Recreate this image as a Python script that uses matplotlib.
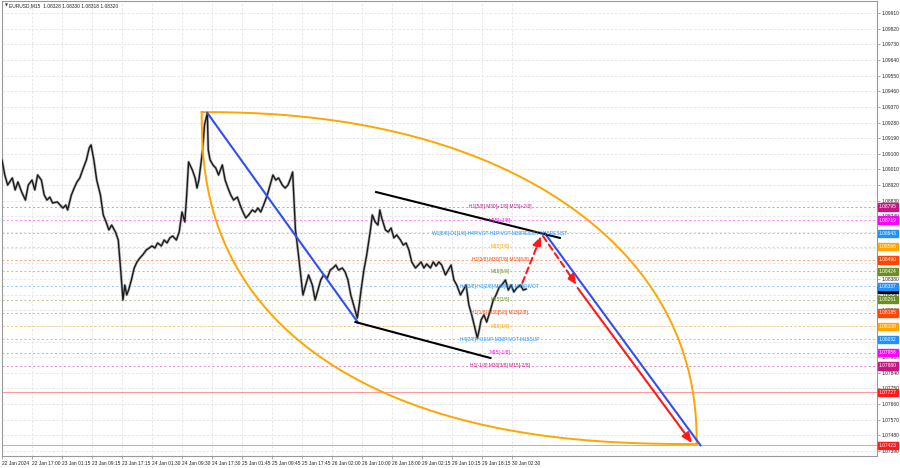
import numpy as np
import matplotlib
matplotlib.use("Agg")
import matplotlib.pyplot as plt

# ---------------- data ----------------
price_bar = [0, 3, 6, 11, 14, 17, 21, 25, 28, 32, 35, 38, 42, 45, 48, 51, 54, 59, 62, 65,
             68, 70, 74, 77, 80, 83, 86, 90, 93, 95, 98, 101, 105, 108, 111, 114, 117, 121, 124, 127,
             129, 131, 133, 135, 138, 141, 144, 147, 150, 154, 157, 160, 163, 166, 170, 173, 176, 179, 182, 186,
             189, 192, 195, 197, 199, 203, 206, 208, 210, 212, 214, 216, 219, 220, 222, 225, 228, 231, 235, 238,
             241, 244, 247, 251, 254, 257, 260, 263, 267, 270, 273, 276, 279, 283, 286, 289, 292, 295, 299, 302,
             305, 308, 310, 313, 315, 318, 321, 324, 327, 331, 334, 337, 340, 343, 347, 350, 353, 356, 359, 363,
             366, 369, 372, 375, 379, 381, 383, 386, 389, 393, 395, 398, 401, 403, 405, 409, 412, 415, 418, 421,
             425, 428, 431, 434, 437, 441, 444, 447, 450, 453, 457, 460, 463, 466, 469, 473, 476, 479, 482, 485,
             489, 492, 495, 498, 501, 505, 507, 509, 511, 514, 517, 521, 524, 527, 530, 533, 537, 540, 543, 546,
             549, 553, 556, 559]
price_close = [1.09064, 1.08978, 1.08920, 1.08961, 1.08892, 1.08938, 1.08880, 1.08834, 1.08920, 1.08949,
               1.08892, 1.08978, 1.08949, 1.08863, 1.08834, 1.08851, 1.08817, 1.08823, 1.08805, 1.08788,
               1.08805, 1.08777, 1.08863, 1.08903, 1.08938, 1.08961, 1.09007, 1.09064, 1.09133, 1.09151,
               1.09064, 1.08949, 1.08863, 1.08748, 1.08708, 1.08662, 1.08690, 1.08650, 1.08604, 1.08403,
               1.08259, 1.08345, 1.08288, 1.08316, 1.08374, 1.08443, 1.08478, 1.08500, 1.08518, 1.08547,
               1.08558, 1.08570, 1.08558, 1.08587, 1.08570, 1.08604, 1.08587, 1.08616, 1.08627, 1.08604,
               1.08650, 1.08765, 1.08708, 1.08863, 1.09053, 1.09007, 1.08961, 1.08903, 1.08949, 1.09036,
               1.09122, 1.09266, 1.09335, 1.09122, 1.09064, 1.09036, 1.09018, 1.08978, 1.09036, 1.08949,
               1.08903, 1.08863, 1.08834, 1.08851, 1.08805, 1.08765, 1.08731, 1.08748, 1.08777, 1.08765,
               1.08788, 1.08765, 1.08805, 1.08863, 1.08920, 1.08978, 1.08949, 1.08961, 1.08920, 1.08903,
               1.08920, 1.08961, 1.08995, 1.08662, 1.08575, 1.08431, 1.08288, 1.08345, 1.08403, 1.08345,
               1.08259, 1.08316, 1.08374, 1.08403, 1.08385, 1.08431, 1.08443, 1.08460, 1.08431, 1.08443,
               1.08420, 1.08374, 1.08288, 1.08230, 1.08155, 1.08230, 1.08316, 1.08431, 1.08518, 1.08662,
               1.08748, 1.08708, 1.08690, 1.08777, 1.08731, 1.08662, 1.08650, 1.08673, 1.08616, 1.08633,
               1.08604, 1.08575, 1.08587, 1.08547, 1.08478, 1.08443, 1.08460, 1.08478, 1.08443, 1.08466,
               1.08443, 1.08478, 1.08454, 1.08478, 1.08460, 1.08403, 1.08431, 1.08460, 1.08374, 1.08345,
               1.08288, 1.08316, 1.08345, 1.08230, 1.08173, 1.08086, 1.08040, 1.08086, 1.08144, 1.08173,
               1.08132, 1.08201, 1.08259, 1.08288, 1.08328, 1.08345, 1.08374, 1.08316, 1.08345, 1.08305,
               1.08328, 1.08345, 1.08316, 1.08322]

x_tick_labels = ["22 Jan 2024", "22 Jan 17:00", "23 Jan 01:15", "23 Jan 09:15", "23 Jan 17:15",
                 "24 Jan 01:30", "24 Jan 09:30", "24 Jan 17:30", "25 Jan 01:45", "25 Jan 09:45",
                 "25 Jan 17:45", "26 Jan 02:00", "26 Jan 10:00", "26 Jan 18:00", "29 Jan 02:15",
                 "29 Jan 10:15", "29 Jan 18:15", "30 Jan 02:30"]
x_tick_bars = [0, 32, 64, 96, 128, 160, 192, 224, 256, 288, 320, 352, 384, 416, 448, 480, 512, 544]

y_tick_values = [1.07390, 1.07480, 1.07570, 1.07660, 1.07750, 1.07840, 1.07930, 1.08020, 1.08110,
                 1.08200, 1.08290, 1.08380, 1.08470, 1.08560, 1.08650, 1.08740, 1.08830, 1.08920,
                 1.09010, 1.09100, 1.09190, 1.09280, 1.09370, 1.09460, 1.09550, 1.09640, 1.09730,
                 1.09820, 1.09910]

level_prices = [1.08795, 1.08719, 1.08643, 1.08566, 1.08490, 1.08424, 1.08337, 1.08261,
                1.08185, 1.08108, 1.08032, 1.07956, 1.07880]
level_colors = ["#c71585", "#ff00ff", "#1e90ff", "#ffa500", "#ff4500", "#6b8e23", "#1e90ff",
                "#6b8e23", "#ff4500", "#ffa500", "#1e90ff", "#ff00ff", "#c71585"]
level_texts = ["H1[5/8] M30[+1/8] M15[+2/8]", "M15[+1/8]",
               "W1[5/8] D1[1/8] H4PIVOT H1PIVOT M30RESIST M15RESIST", "M15[7/8]",
               "H1[3/8] M30[7/8] M15[6/8]", "M15[5/8]", "H4[3/8] H1[2/8] M30[6/8] M15PIVOT",
               "M15[3/8]", "H1[1/8] M30[5/8] M15[2/8]", "M15[1/8]",
               "H4[2/8] H1SUP M30PIVOT M15SUP", "M15[-1/8]", "H1[-1/8] M30[3/8] M15[-2/8]"]
red_levels = [1.07727, 1.07423]
current_price = 1.08320

# drawing objects (bar index, price)
blue_line1 = [(219, 1.09335), (380, 1.08127)]
blue_line2 = [(579, 1.08643), (745, 1.07423)]
black_upper = [(399, 1.08880), (595, 1.08616)]
black_lower = [(377, 1.08132), (521, 1.07925)]
red_dash1 = [(555, 1.08357), (575, 1.08627)]
red_dash2 = [(577, 1.08627), (613, 1.08345)]
red_solid = [(614, 1.08328), (736, 1.07436)]
arc_anchor = [(213, 1.09340), (741, 1.07430)]

# ---------------- figure ----------------
W, H = 900, 468
fig = plt.figure(figsize=(W / 100, H / 100), dpi=100)
fig.patch.set_facecolor("white")
ax = fig.add_axes([2 / W, 12 / H, 875 / W, 455 / H])
ax.set_facecolor("white")
ax.set_xlim(0, 933.3)
ax.set_ylim(1.073614, 1.09979)

font = "Liberation Sans"
# grid
ax.set_yticks(y_tick_values)
ax.set_xticks(x_tick_bars)
ax.grid(True, color="#e4e4e4", linestyle=(0, (3, 2)), linewidth=0.6)
ax.set_axisbelow(True)
ax.yaxis.tick_right()
ax.set_yticklabels([f"{v:.5f}" for v in y_tick_values], fontsize=3.5, family=font, color="#222222")
ax.set_xticklabels(x_tick_labels, fontsize=3.5, family=font, color="#222222", ha="left")
ax.tick_params(axis="y", length=2, pad=1.2, width=0.5, color="#888888")
ax.tick_params(axis="x", length=2, pad=1.5, width=0.5, color="#888888")
for s in ax.spines.values():
    s.set_color("#9a9a9a")
    s.set_linewidth(0.8)

# level lines
for p, c in zip(level_prices, level_colors):
    ax.axhline(p, color=c, linestyle=(0, (2, 2.5)), linewidth=0.7, alpha=0.5, zorder=1)
for p in red_levels:
    ax.axhline(p, color="#ff6b6b", linestyle="-", linewidth=0.7, alpha=0.7, zorder=1)

# price
ax.plot(price_bar, price_close, color="#8a8a8a", linewidth=2.0, alpha=0.6, zorder=3)
ax.plot(price_bar, price_close, color="#1a1a1a", linewidth=1.0, zorder=3)

# arcs (superellipse lens)
(b0, p0), (b1, p1) = arc_anchor
t = np.linspace(0, np.pi / 2, 300)
n_up, n_low = 2.2, 2.4
u = np.sin(t) ** (2 / n_up)
v = np.cos(t) ** (2 / n_up)
ax.plot(b0 + (b1 - b0) * u, p1 + (p0 - p1) * v, color="#ffa500", linewidth=1.4, zorder=4)
u = np.sin(t) ** (2 / n_low)
v = np.cos(t) ** (2 / n_low)
ax.plot(b1 - (b1 - b0) * u, p0 - (p0 - p1) * v, color="#ffa500", linewidth=1.4, zorder=4)

def seg(pts, **kw):
    ax.plot([pts[0][0], pts[1][0]], [pts[0][1], pts[1][1]], **kw)

seg(blue_line1, color="#2f4ff0", linewidth=1.5, zorder=5)
seg(blue_line2, color="#2f4ff0", linewidth=1.5, zorder=5)
seg(black_upper, color="#000000", linewidth=1.5, zorder=5)
seg(black_lower, color="#000000", linewidth=1.5, zorder=5)

def arrow(pts, ls):
    ax.annotate("", xy=pts[1], xytext=pts[0],
                arrowprops=dict(arrowstyle="-|>,head_length=0.6,head_width=0.25", color="#ff1a1a",
                                lw=1.5, linestyle=ls, shrinkA=0, shrinkB=0), zorder=6)

arrow(red_dash1, (0, (3, 2)))
arrow(red_dash2, (0, (3, 2)))
arrow(red_solid, "-")

# level texts
for p, c, txt in zip(level_prices, level_colors, level_texts):
    ax.text(531, p, txt, color=c, fontsize=3.5, family=font, ha="center", va="center", zorder=7)

# title
ax.text(0.003, 0.994, "\u25BC", transform=ax.transAxes, fontsize=2.8, color="#333333",
        va="top", ha="left", family="DejaVu Sans")
ax.text(0.008, 0.994, "EURUSD,M15  1.08328 1.08330 1.08318 1.08320", transform=ax.transAxes,
        fontsize=3.5, color="#222222", va="top", ha="left", family=font)

# right-side price labels
def price_label(p, bg):
    ax.text(1.002, p, f"{p:.5f}", transform=ax.get_yaxis_transform(), fontsize=3.5, family=font,
            color="white", va="center", ha="left", zorder=10, clip_on=False,
            bbox=dict(boxstyle="square,pad=0.25", facecolor=bg, edgecolor=bg))

price_label(current_price, "#000000")
for p, c in zip(level_prices, level_colors):
    price_label(p, c)
for p in red_levels:
    price_label(p, "#ff1a1a")

fig.savefig("out.png", dpi=100, facecolor="white")
